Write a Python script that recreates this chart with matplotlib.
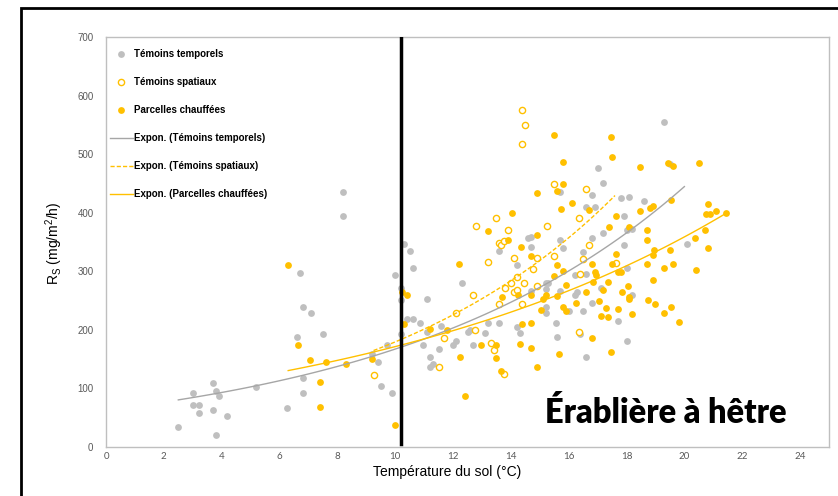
import numpy as np
import matplotlib
matplotlib.use('Agg')
import matplotlib.pyplot as plt
from matplotlib.patches import Rectangle

# ── data ──────────────────────────────────────────────────────
temp_x = [2.5, 3.0, 3.0, 3.2, 3.2, 3.7, 3.7, 3.8, 3.9, 3.8, 4.2, 5.2, 6.25, 6.6, 6.7,
          6.8, 7.1, 6.8, 6.8, 7.5, 8.2, 8.2, 9.2, 9.4, 9.5, 9.7, 9.9, 10.0, 10.2, 10.2,
          10.2, 10.3, 10.4, 10.5, 10.6, 10.6, 10.85, 11.1, 11.1, 10.95, 11.2, 11.3, 11.2,
          11.5, 11.6, 12.0, 12.1, 12.3, 12.5, 12.6, 12.7, 13.1, 13.2, 13.6, 13.6, 14.2,
          14.2, 14.3, 14.6, 14.7, 14.7, 14.7, 15.2, 15.3, 15.2, 15.2, 15.2, 15.55, 15.6,
          15.7, 15.7, 15.7, 15.8, 16.0, 16.2, 16.2, 16.3, 16.4, 16.5, 16.5, 16.6, 16.6,
          16.6, 16.8, 16.8, 16.8, 16.9, 17.0, 17.1, 17.2, 17.2, 17.7, 17.8, 17.9, 17.9,
          18.0, 18.0, 18.0, 18.1, 18.2, 18.2, 18.6, 19.3, 19.5, 20.1]
temp_y = [34, 92, 72, 72, 57, 109, 62, 96, 87, 20, 52, 102, 66, 187, 296,
          238, 228, 118, 91, 192, 435, 395, 158, 144, 103, 173, 91, 294, 272, 250,
          193, 346, 219, 334, 219, 306, 212, 252, 196, 174, 154, 141, 136,
          167, 206, 174, 181, 279, 196, 199, 174, 194, 212, 211, 334, 310,
          204, 194, 356, 359, 341, 266, 280, 280, 269, 238, 228, 211, 187,
          354, 266, 435, 339, 232, 294, 260, 265, 193, 333, 232, 295, 410,
          153, 430, 357, 245, 410, 476, 272, 450, 365, 215, 425, 395, 345,
          370, 305, 181, 427, 372, 259, 420, 555, 483, 346]

spat_x = [9.25, 11.5, 11.7, 12.1, 12.75, 12.7, 12.8, 13.2, 13.3, 13.4, 13.5, 13.6, 13.65,
          13.75, 13.6, 13.75, 13.8, 13.9, 14.0, 14.1, 14.1, 14.2, 14.2, 14.4, 14.4, 14.45,
          14.5, 14.4, 14.75, 14.9, 14.9, 15.25, 15.5, 15.5, 16.35, 16.35, 16.4, 16.5, 16.6,
          16.7, 17.65]
spat_y = [122, 136, 185, 228, 199, 259, 377, 315, 177, 165, 390, 348, 344,
          351, 244, 125, 271, 370, 280, 322, 264, 290, 268, 243, 576, 279,
          550, 518, 303, 323, 275, 377, 448, 325, 390, 196, 295, 321, 440,
          345, 314]

heat_x = [6.3, 6.65, 7.05, 7.6, 7.4, 7.4, 8.3, 9.2, 10.0, 10.25, 10.4, 10.3, 11.2, 11.8,
          12.2, 12.25, 12.4, 12.95, 13.2, 13.5, 13.5, 13.65, 13.7, 13.9, 14.05, 14.25, 14.3,
          14.35, 14.4, 14.7, 14.7, 14.7, 14.7, 14.9, 14.9, 14.9, 15.05, 15.1, 15.2, 15.5,
          15.5, 15.6, 15.6, 15.6, 15.65, 15.75, 15.8, 15.8, 15.8, 15.8, 15.9, 15.9, 16.1,
          16.25, 16.6, 16.7, 16.8, 16.8, 16.85, 16.9, 16.95, 17.05, 17.1, 17.2, 17.3, 17.35,
          17.35, 17.4, 17.45, 17.45, 17.5, 17.5, 17.65, 17.65, 17.7, 17.7, 17.8, 17.85, 18.05,
          18.1, 18.1, 18.1, 18.2, 18.45, 18.45, 18.7, 18.7, 18.7, 18.75, 18.8, 18.9, 18.9,
          18.9, 18.95, 19.0, 19.3, 19.3, 19.45, 19.5, 19.55, 19.55, 19.6, 19.6, 19.8, 20.35,
          20.4, 20.5, 20.7, 20.75, 20.8, 20.8, 20.9, 21.1, 21.45]
heat_y = [311, 174, 148, 145, 111, 68, 141, 150, 37, 265, 259, 210, 201, 199,
          313, 153, 87, 174, 368, 174, 151, 130, 256, 353, 400, 260, 175,
          342, 210, 325, 260, 212, 169, 433, 362, 136, 233, 252, 260, 533,
          292, 437, 310, 257, 158, 406, 487, 449, 301, 238, 277, 232, 416,
          245, 265, 404, 313, 185, 282, 299, 293, 249, 223, 268, 237, 282,
          221, 375, 529, 161, 495, 312, 395, 329, 298, 235, 298, 265, 275,
          375, 256, 252, 226, 478, 403, 371, 353, 313, 251, 407, 411, 328,
          284, 336, 243, 306, 228, 484, 336, 421, 239, 480, 313, 213, 357,
          302, 485, 370, 397, 415, 339, 398, 402, 400]

# exponential trend lines y = a * exp(b * x), over [x0, x1]
trend_temp = (62.6, 0.098, 2.5, 20.0)
trend_spat = (56.7, 0.115, 9.25, 17.6)
trend_heat = (81.6, 0.074, 6.3, 21.5)

labels = ['Témoins temporels', 'Témoins spatiaux', 'Parcelles chauffées',
          'Expon. (Témoins temporels)', 'Expon. (Témoins spatiaux)',
          'Expon. (Parcelles chauffées)']

GRAY = '#bfbfbf'
GOLD = '#ffc000'

fig = plt.figure(figsize=(8.38, 4.96), dpi=100)
ax = fig.add_axes([106/838, 1 - 446.7/496, (829 - 106)/838, (446.7 - 37)/496])

# outer frame
fig.patches.append(Rectangle((21/838, -0.1), 1.2, 1 - 8/496 + 0.1, transform=fig.transFigure,
                             fill=False, edgecolor='black', lw=2, zorder=0))

h1 = ax.scatter(temp_x, temp_y, s=24, color=GRAY, linewidths=0, zorder=3)
h2 = ax.scatter(spat_x, spat_y, s=20, facecolor='white', edgecolor=GOLD, linewidths=1.0, zorder=4)
h3 = ax.scatter(heat_x, heat_y, s=24, color=GOLD, linewidths=0, zorder=5)

def trend(p):
    a, b, x0, x1 = p
    xs = np.linspace(x0, x1, 100)
    return xs, a * np.exp(b * xs)

l1, = ax.plot(*trend(trend_temp), color='#a6a6a6', lw=1.0, zorder=6)
l2, = ax.plot(*trend(trend_spat), color=GOLD, lw=1.0, ls=(0, (3, 1.5)), zorder=6)
l3, = ax.plot(*trend(trend_heat), color=GOLD, lw=1.0, zorder=6)

ax.plot([10.2, 10.2], [5, 700], color='black', lw=2.5, zorder=7)

ax.set_xlim(0, 25)
ax.set_ylim(0, 700)
ax.set_xticks(range(0, 25, 2))
ax.set_yticks(range(0, 701, 100))
ax.tick_params(length=0, colors='#595959', labelsize=7)
ax.tick_params(axis='x', pad=4)
ax.tick_params(axis='y', pad=9)
for t in ax.get_xticklabels():
    t.set_family('Lato')
for t in ax.get_yticklabels():
    t.set_family('Liberation Sans')
for sp in ax.spines.values():
    sp.set_color('#bfbfbf')
    sp.set_linewidth(1.0)

leg = ax.legend([h1, h2, h3, l1, l2, l3], labels, loc='upper left',
                bbox_to_anchor=(-0.003, 0.985), frameon=False, labelspacing=1.85,
                handlelength=2.4, handletextpad=0.15, borderaxespad=0.2,
                prop={'family': 'Liberation Sans', 'weight': 'bold', 'size': 7})

fig.text(447/838, 1 - 472/496, 'Température du sol (°C)', ha='center', va='center',
         fontsize=10, family='Liberation Sans')
fig.text(54/838, 1 - 243/496, r'R$_\mathregular{S}$ (mg/m$^\mathregular{2}$/h)',
         rotation=90, ha='center', va='center', fontsize=10, family='Liberation Sans')

ax.text(0.942, 0.083, 'Érablière à hêtre', transform=ax.transAxes, ha='right',
        va='center', fontsize=23.5, fontweight='heavy', family='Lato', zorder=8)

plt.savefig('out.png', dpi=100)
